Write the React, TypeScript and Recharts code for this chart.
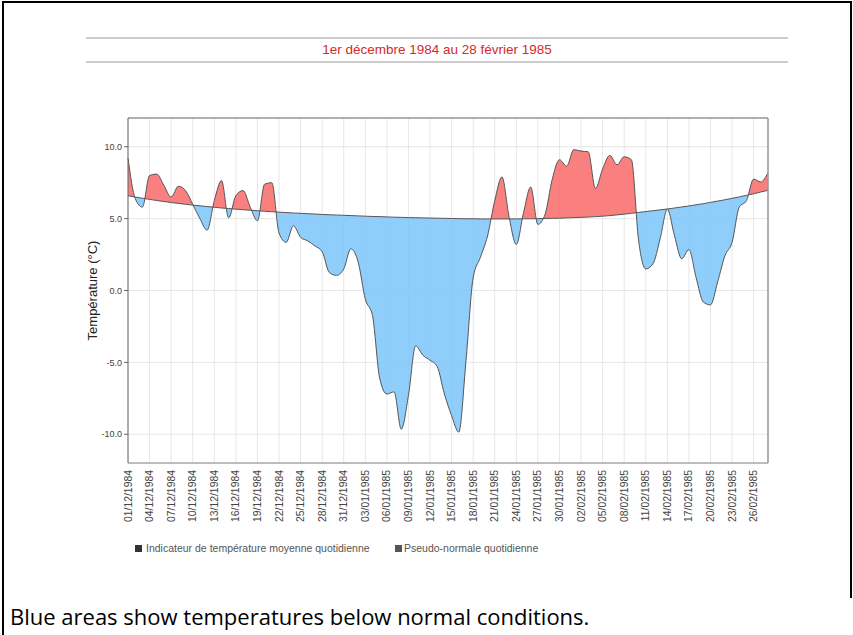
import {
  ComposedChart,
  Area,
  Line,
  XAxis,
  YAxis,
  CartesianGrid,
  ReferenceLine,
  Curve,
} from 'recharts'

// one label every 3 days, 01/12/1984 -> 26/02/1985
const tickLabels = [
  '01/12/1984', '04/12/1984', '07/12/1984', '10/12/1984', '13/12/1984',
  '16/12/1984', '19/12/1984', '22/12/1984', '25/12/1984', '28/12/1984',
  '31/12/1984', '03/01/1985', '06/01/1985', '09/01/1985', '12/01/1985',
  '15/01/1985', '18/01/1985', '21/01/1985', '24/01/1985', '27/01/1985',
  '30/01/1985', '02/02/1985', '05/02/1985', '08/02/1985', '11/02/1985',
  '14/02/1985', '17/02/1985', '20/02/1985', '23/02/1985', '26/02/1985',
]

// indicateur de température moyenne quotidienne (°C), 01/12/1984 -> 28/02/1985
const temperature = [
  9.2, 6.4, 5.8, 8.0, 8.1, 7.3, 6.5, 7.25, 6.95, 6.0,
  5.0, 4.2, 6.25, 7.65, 5.05, 6.6, 6.95, 5.8, 4.85, 7.4,
  7.5, 4.0, 3.35, 4.5, 3.7, 3.45, 3.1, 2.7, 1.25, 1.05,
  1.5, 2.9, 2.0, -0.6, -1.75, -6.1, -7.2, -7.05, -9.65, -7.3,
  -3.85, -4.5, -4.85, -5.3, -7.2, -8.7, -9.85, -4.9, 0.9, 2.3,
  3.8, 6.25, 7.9, 5.1, 3.2, 5.4, 7.2, 4.6, 5.3, 7.75,
  9.1, 8.65, 9.8, 9.7, 9.65, 7.1, 8.45, 9.4, 8.75, 9.3,
  9.1, 3.5, 1.5, 1.85, 3.6, 5.65, 3.8, 2.2, 2.85, 0.9,
  -0.8, -1.0, 0.6, 2.4, 3.35, 5.8, 6.25, 7.75, 7.55, 8.2,
]

// pseudo-normale quotidienne (°C)
const normale = [
  6.6, 6.5, 6.42, 6.34, 6.26, 6.19, 6.12, 6.06, 6.0, 5.94,
  5.89, 5.84, 5.79, 5.74, 5.7, 5.66, 5.62, 5.58, 5.55, 5.51,
  5.48, 5.45, 5.42, 5.39, 5.37, 5.34, 5.32, 5.29, 5.27, 5.25,
  5.23, 5.21, 5.19, 5.17, 5.15, 5.14, 5.12, 5.1, 5.09, 5.07,
  5.06, 5.05, 5.04, 5.03, 5.02, 5.01, 5.0, 4.99, 4.99, 4.98,
  4.98, 4.98, 4.98, 4.98, 4.98, 4.99, 4.99, 5.0, 5.01, 5.02,
  5.03, 5.05, 5.07, 5.09, 5.11, 5.14, 5.17, 5.21, 5.26, 5.31,
  5.37, 5.43, 5.49, 5.55, 5.61, 5.67, 5.74, 5.81, 5.88, 5.96,
  6.04, 6.13, 6.22, 6.31, 6.41, 6.51, 6.62, 6.73, 6.85, 6.97,
]

const yTicks = [-10, -5, 0, 5, 10]

const data = temperature.map((t, i) => ({ day: i, temp: t, normal: normale[i] }))
const tickDays = tickLabels.map((_, i) => i * 3)

const FONT = '"Liberation Sans", Arial, sans-serif'

function DateTick({ x, y, payload }: any) {
  return (
    <text
      x={x}
      y={y}
      transform={`rotate(-90 ${x} ${y})`}
      textAnchor="end"
      dominantBaseline="central"
      fontSize={10.4}
      fill="#444"
    >
      {tickLabels[Math.round(payload.value / 3)]}
    </text>
  )
}

// builds the two clip regions (above / below the normal curve) from the line's own points
function ClipDot(props: any) {
  const { index, points } = props
  if (index !== 0 || !points) return <g key={`c-${index}`} />
  return (
    <defs key="clip-defs">
      <clipPath id="clipAbove">
        <Curve type="monotone" layout="horizontal" points={points} baseLine={0} />
      </clipPath>
      <clipPath id="clipBelow">
        <Curve type="monotone" layout="horizontal" points={points} baseLine={2000} />
      </clipPath>
    </defs>
  )
}

const between = (d: { temp: number; normal: number }) => [d.normal, d.temp]

export default function App() {
  return (
    <div
      style={{
        position: 'absolute',
        left: 0,
        top: 0,
        width: 853,
        height: 635,
        background: '#fff',
        fontFamily: FONT,
        overflow: 'hidden',
      }}
    >
      <style>{`
        .area-above .recharts-area-area { clip-path: url(#clipAbove); }
        .area-below .recharts-area-area { clip-path: url(#clipBelow); }
      `}</style>
      <ComposedChart
        width={853}
        height={635}
        data={data}
        margin={{ top: 118, right: 85, bottom: 112, left: 88 }}
      >
        <CartesianGrid stroke="#e6e6e6" />
        <XAxis
          dataKey="day"
          type="number"
          domain={[0, 89]}
          ticks={tickDays}
          interval={0}
          height={60}
          tickLine={false}
          tickSize={0}
          tickMargin={7}
          axisLine={{ stroke: '#888' }}
          tick={<DateTick />}
        />
        <YAxis
          type="number"
          domain={[-12, 12]}
          ticks={yTicks}
          width={40}
          tickSize={4}
          tickMargin={2}
          tickFormatter={(v: number) => v.toFixed(1)}
          tick={{ fontSize: 9, fill: '#444' }}
          axisLine={{ stroke: '#666' }}
          tickLine={{ stroke: '#666' }}
          label={{
            value: 'Température (°C)',
            angle: -90,
            position: 'insideLeft',
            offset: 4,
            style: { textAnchor: 'middle', fontSize: 13, fill: '#222' },
          }}
        />
        <Area
          className="area-above"
          dataKey={between}
          type="monotone"
          stroke="none"
          fill="#f96a6a"
          fillOpacity={0.85}
          isAnimationActive={false}
          activeDot={false}
        />
        <Area
          className="area-below"
          dataKey={between}
          type="monotone"
          stroke="none"
          fill="#7bc5f9"
          fillOpacity={0.85}
          isAnimationActive={false}
          activeDot={false}
        />
        <Line
          dataKey="normal"
          type="monotone"
          stroke="#555"
          strokeWidth={1}
          dot={ClipDot}
          activeDot={false}
          isAnimationActive={false}
        />
        <Line
          dataKey="temp"
          type="monotone"
          stroke="#555"
          strokeWidth={1}
          dot={false}
          activeDot={false}
          isAnimationActive={false}
        />
        <ReferenceLine y={12} stroke="#999" strokeWidth={1.5} />
        <ReferenceLine x={89} stroke="#999" strokeWidth={1.5} />
      </ComposedChart>

      <svg
        width={853}
        height={635}
        style={{ position: 'absolute', left: 0, top: 0, pointerEvents: 'none' }}
      >
        {/* frame */}
        <line x1={2} y1={2} x2={852} y2={2} stroke="#000" strokeWidth={2} />
        <line x1={3} y1={2} x2={3} y2={635} stroke="#000" strokeWidth={2} />
        <line x1={851} y1={2} x2={851} y2={598} stroke="#000" strokeWidth={2} />

        {/* title */}
        <line x1={86} y1={38} x2={788} y2={38} stroke="#bdbdbd" strokeWidth={1.5} />
        <line x1={86} y1={62} x2={788} y2={62} stroke="#bdbdbd" strokeWidth={1.5} />
        <text x={437} y={54} textAnchor="middle" fontSize={13.5} fill="#d42a2a">
          1er décembre 1984 au 28 février 1985
        </text>

        {/* legend */}
        <rect x={135} y={545} width={7} height={7} fill="#333" />
        <text x={146} y={552} fontSize={10.5} fill="#555">
          Indicateur de température moyenne quotidienne
        </text>
        <rect x={395} y={545} width={7} height={7} fill="#555" />
        <text x={404} y={552} fontSize={10.5} fill="#555">
          Pseudo-normale quotidienne
        </text>

        {/* caption */}
        <text x={10} y={625} fontSize={22} fill="#000" fontFamily='"Open Sans", sans-serif'>
          Blue areas show temperatures below normal conditions.
        </text>
      </svg>
    </div>
  )
}
